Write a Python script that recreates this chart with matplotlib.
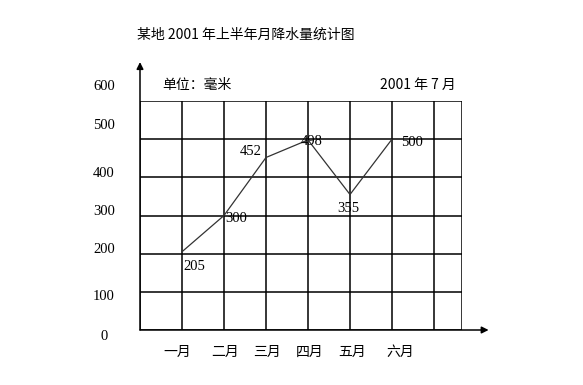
import numpy as np
import matplotlib.pyplot as plt

plt.rcParams['font.family'] = ['Noto Sans CJK SC', 'DejaVu Sans']

# data
months = ['一月', '二月', '三月', '四月', '五月', '六月']
rain = [205, 300, 452, 498, 355, 500]
yticks = [0, 100, 200, 300, 400, 500, 600]
title = '某地 2001 年上半年月降水量统计图'
unit = '单位：毫米'
date = '2001 年 7 月'

# label offsets in pixels (ha, dx, dy)
lab_off = [('left', 1, -15), ('left', 1, -3), ('right', -4, 6),
           ('left', -7, -2), ('center', -2, -14), ('left', 9, -3)]

W, H = 583, 385
fig = plt.figure(figsize=(W / 100, H / 100), dpi=100)
x0, x1, y0, y1 = 140, 462, 330, 101
ax = fig.add_axes([x0 / W, 1 - y0 / H, (x1 - x0) / W, (y0 - y1) / H])
xmax = (x1 - x0) / 42.0
ax.set_xlim(0, xmax)
ax.set_ylim(0, 600)
ax.axis('off')

# grid
for v in yticks:
    ax.plot([0, xmax], [v, v], color='black', lw=1.1, solid_capstyle='butt')
for i in range(0, 8):
    ax.plot([i, i], [0, 600], color='black', lw=1.1, solid_capstyle='butt')
ax.plot([xmax, xmax], [0, 600], color='black', lw=1.1)

# axes arrows
ax.annotate('', xy=(0, 702), xytext=(0, 0), annotation_clip=False,
            arrowprops=dict(arrowstyle='-|>', color='black', lw=1.1,
                            mutation_scale=10, shrinkA=0, shrinkB=0))
ax.annotate('', xy=(8.3, 0), xytext=(0, 0), annotation_clip=False,
            arrowprops=dict(arrowstyle='-|>', color='black', lw=1.1,
                            mutation_scale=10, shrinkA=0, shrinkB=0))

# line
xs = np.arange(1, len(rain) + 1)
ax.plot(xs, rain, color='#333333', lw=0.9)

for x, v, (ha, dx, dy) in zip(xs, rain, lab_off):
    ax.annotate(str(v), (x, v), xytext=(dx, dy), textcoords='offset pixels',
                ha=ha, va='center', fontsize=10.5, family='Liberation Serif',
                annotation_clip=False)

# y labels (placed a little off the grid lines, like the original)
ylab_pos = [-16, 100 - 13, 210, 310, 410, 537, 637]
for v, p in zip(yticks, ylab_pos):
    ax.text(-36 / 42.0, p, str(v), ha='center', va='center', fontsize=10.5,
            family='Liberation Serif', clip_on=False)

# month labels
mon_dx = [-5, 1, 1, 2, 2, 8]
for x, m, dx in zip(xs, months, mon_dx):
    ax.text(x + dx / 42.0, -58, m, ha='center', va='center', fontsize=10,
            clip_on=False)

fig.text(137 / W, 1 - 35 / H, title, ha='left', va='center', fontsize=10)
fig.text(162 / W, 1 - 85 / H, unit, ha='left', va='center', fontsize=10)
fig.text(380 / W, 1 - 85 / H, date, ha='left', va='center', fontsize=10)

fig.savefig('out.png', dpi=100, facecolor='white')
